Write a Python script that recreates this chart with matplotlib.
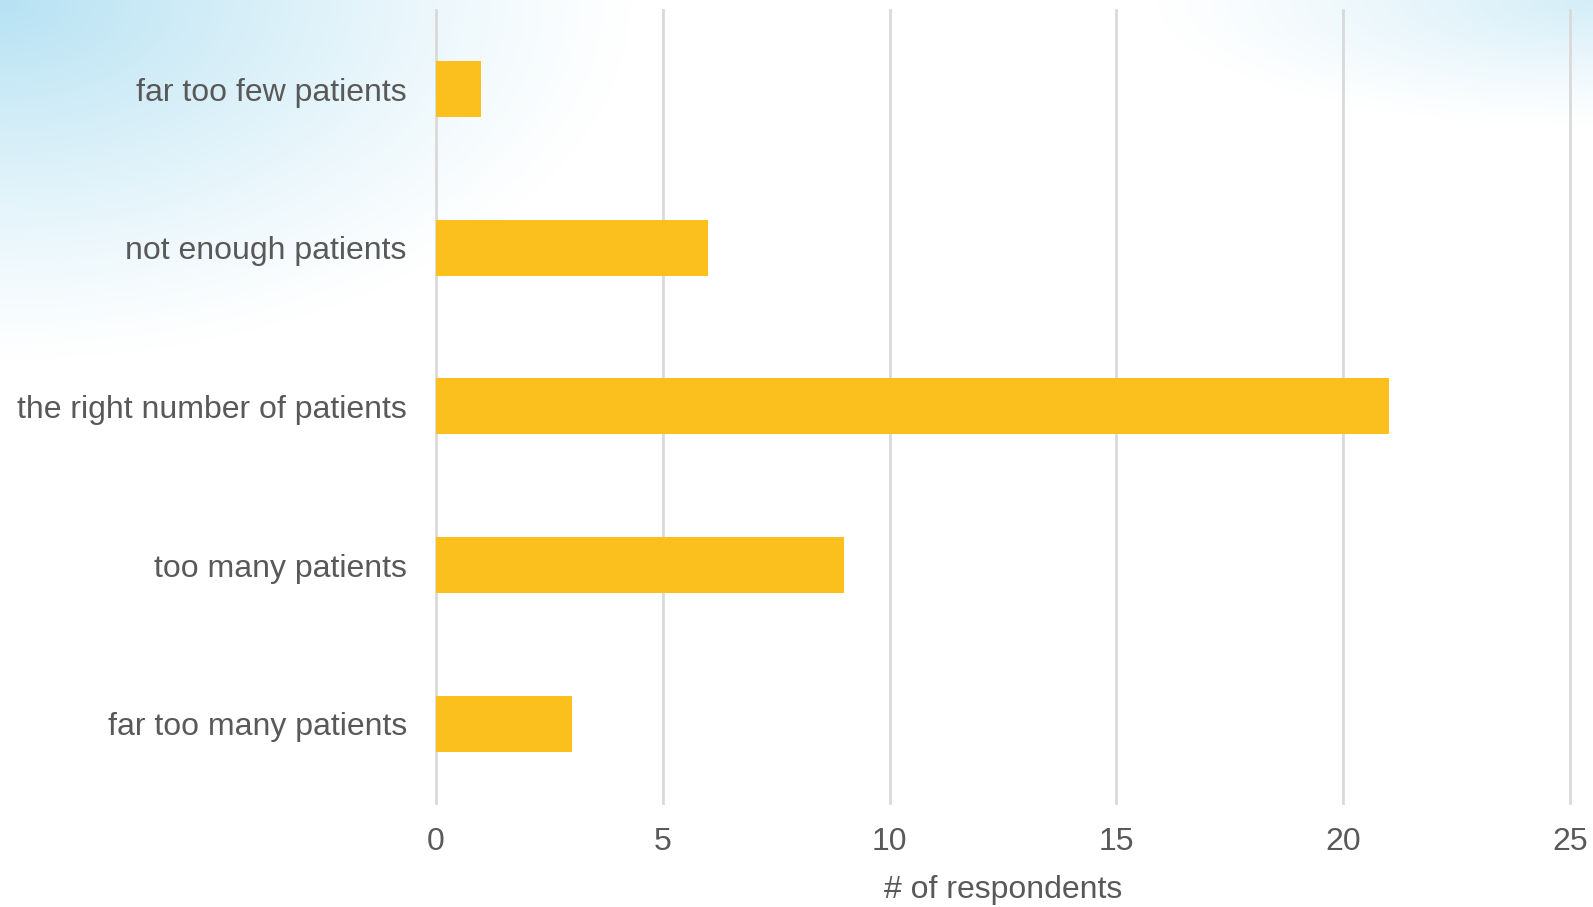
import matplotlib
matplotlib.use("Agg")
import matplotlib.pyplot as plt
import numpy as np

# survey answers, top to bottom
categories = ["far too few patients", "not enough patients",
              "the right number of patients", "too many patients",
              "far too many patients"]
respondents = [1, 6, 21, 9, 3]
x_ticks = [0, 5, 10, 15, 20, 25]

plt.rcParams['font.family'] = ['Liberation Sans', 'DejaVu Sans']
text_color = "#595959"
bar_color = "#FBC01E"
grid_color = "#D9D9D9"

fig = plt.figure(figsize=(15.93, 9.07), dpi=100)

# soft blue wash in the top corners of the slide background
bg = fig.add_axes([0, 0, 1, 1], zorder=-10)
h, w = 300, 530
yy, xx = np.mgrid[0:h, 0:w] / np.array([h, w]).reshape(2, 1, 1)
d_left = np.sqrt((xx / 0.40) ** 2 + (yy / 0.40) ** 2)
d_right = np.sqrt(((1 - xx) / 0.28) ** 2 + (yy / 0.14) ** 2)
alpha = np.clip(1 - d_left, 0, 1) ** 1.2 * 0.75 + np.clip(1 - d_right, 0, 1) ** 1.2 * 0.45
alpha = np.clip(alpha, 0, 1)
rgba = np.zeros((h, w, 4))
rgba[..., 0] = 0.62
rgba[..., 1] = 0.85
rgba[..., 2] = 0.94
rgba[..., 3] = alpha
bg.imshow(rgba, extent=[0, 1, 0, 1], aspect="auto", interpolation="bilinear")
bg.set_axis_off()

ax = fig.add_axes([0.2737, 0.1147, 0.7119, 0.8743])
ax.patch.set_alpha(0)
y = np.arange(len(categories))
ax.barh(y, respondents, height=0.353, color=bar_color, zorder=3)
ax.set_ylim(len(categories) - 0.5, -0.5)
ax.set_xlim(0, 25)
ax.set_yticks(y)
ax.set_yticklabels(categories)
ax.set_xticks(x_ticks)
ax.xaxis.grid(True, color=grid_color, linewidth=2, zorder=0)
for gl in ax.get_xgridlines():
    gl.set_clip_on(False)
ax.set_axisbelow(True)
for s in ax.spines.values():
    s.set_visible(False)
ax.tick_params(axis="both", length=0, labelsize=23, labelcolor=text_color)
ax.tick_params(axis="x", pad=17)
ax.tick_params(axis="y", pad=21)
ax.set_xlabel("# of respondents", fontsize=23, color=text_color, labelpad=13)

fig.savefig("out.png", dpi=100)
